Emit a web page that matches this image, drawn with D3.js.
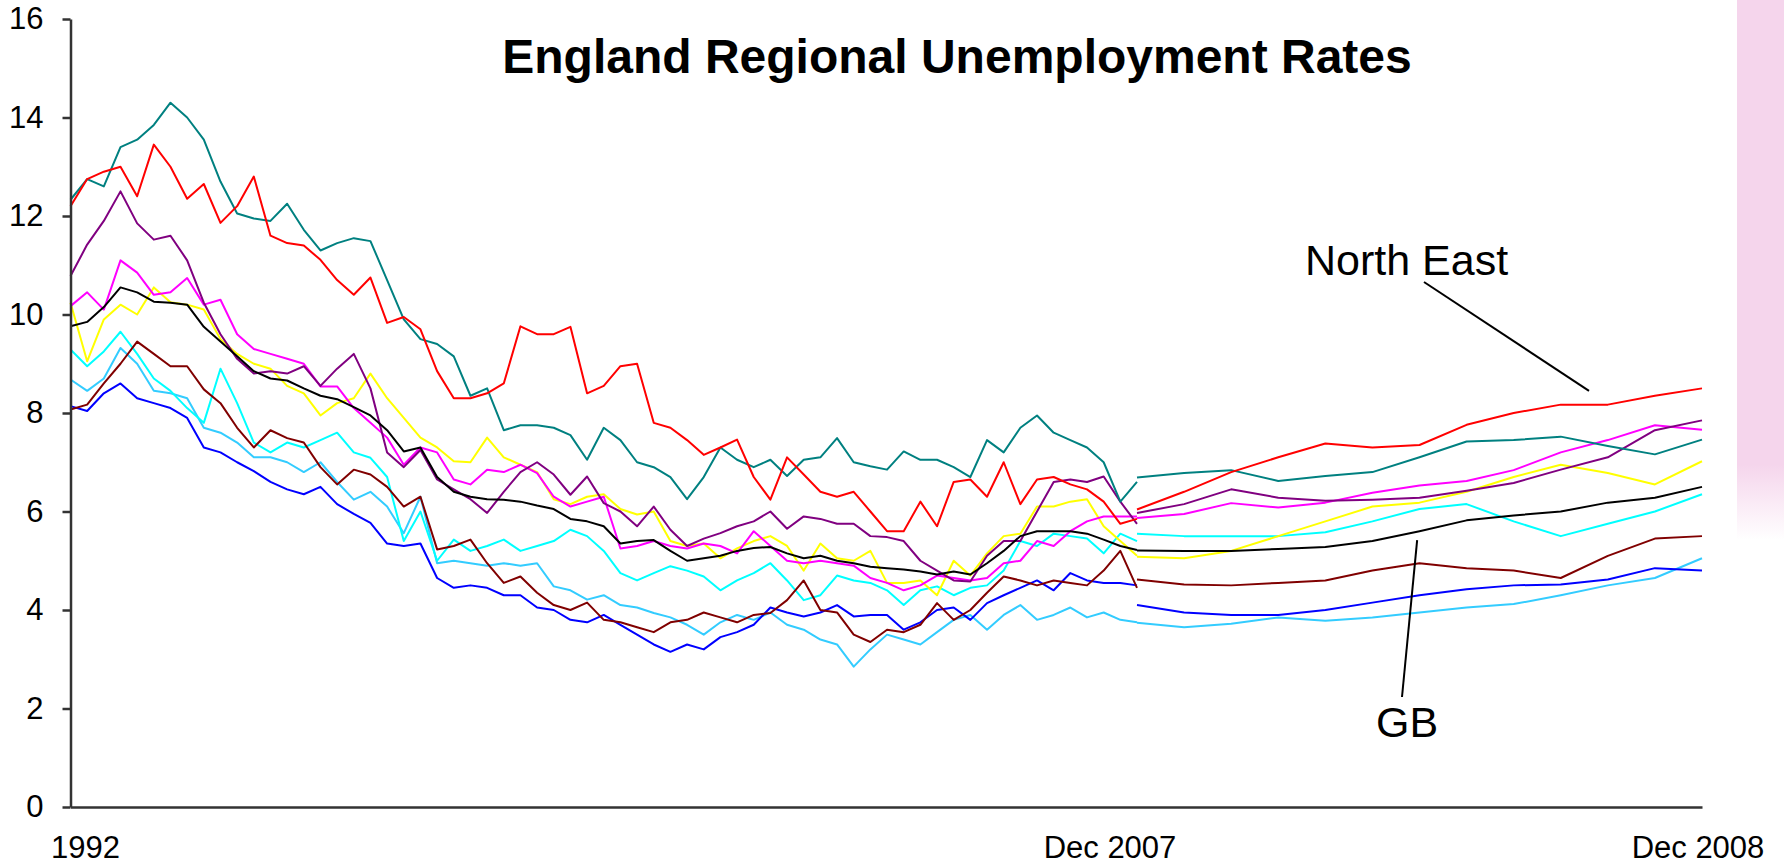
<!DOCTYPE html>
<html lang="en">
<head>
<meta charset="UTF-8">
<title>England Regional Unemployment Rates</title>
<style>
  body { margin: 0; background: #fff; }
  svg { display: block; font-family: "Liberation Sans", Arial, sans-serif; }
  .line { fill: none; stroke-width: 2; stroke-linejoin: round; }
  .axis path, .axis line { stroke: #333; stroke-width: 2.5; }
  .axis text { font-size: 31px; fill: #000; font-family: "Liberation Sans", Arial, sans-serif; }
  .label { font-size: 31px; fill: #000; }
  .note { font-size: 43px; fill: #000; }
  .leader { stroke: #000; stroke-width: 2; }
</style>
</head>
<body>
<div id="chart"></div>
<script src="https://cdn.jsdelivr.net/npm/d3@7/dist/d3.min.js"></script>
<script>
// monthly rates, Jan 1992 - Dec 2007 (read every ~3 months), then Dec 2007 - Dec 2008 monthly
const northEastHist = [12.2, 12.75, 12.9, 13.0, 12.4, 13.45, 13.0, 12.35, 12.65, 11.86, 12.2, 12.8, 11.6, 11.45, 11.4, 11.11, 10.7, 10.4, 10.75, 9.83, 9.95, 9.7, 8.85, 8.3, 8.3, 8.4, 8.6, 9.76, 9.6, 9.6, 9.75, 8.4, 8.55, 8.95, 9.0, 7.8, 7.7, 7.45, 7.15, 7.3, 7.46, 6.7, 6.24, 7.1, 6.75, 6.4, 6.3, 6.4, 6.0, 5.6, 5.6, 6.2, 5.7, 6.6, 6.65, 6.3, 7.0, 6.15, 6.65, 6.7, 6.55, 6.45, 6.2, 5.75, 5.85];
const northEastRecent = [6.04, 6.4, 6.8, 7.1, 7.38, 7.3, 7.35, 7.76, 8.0, 8.17, 8.17, 8.35, 8.5];

const tealHist = [12.33, 12.75, 12.6, 13.4, 13.55, 13.85, 14.3, 14.0, 13.55, 12.7, 12.05, 11.95, 11.9, 12.25, 11.72, 11.3, 11.45, 11.55, 11.49, 10.7, 9.9, 9.5, 9.4, 9.15, 8.35, 8.5, 7.65, 7.75, 7.75, 7.7, 7.55, 7.05, 7.7, 7.45, 7.0, 6.9, 6.7, 6.25, 6.7, 7.3, 7.05, 6.9, 7.05, 6.72, 7.05, 7.1, 7.49, 7.0, 6.92, 6.85, 7.22, 7.05, 7.05, 6.9, 6.7, 7.45, 7.2, 7.7, 7.95, 7.6, 7.45, 7.3, 7.0, 6.2, 6.6];
const tealRecent = [6.69, 6.78, 6.84, 6.62, 6.72, 6.8, 7.1, 7.42, 7.45, 7.52, 7.33, 7.16, 7.46];

const purpleHist = [10.78, 11.42, 11.9, 12.5, 11.85, 11.52, 11.6, 11.1, 10.24, 9.6, 9.1, 8.8, 8.85, 8.8, 8.95, 8.55, 8.9, 9.2, 8.5, 7.2, 6.9, 7.25, 6.65, 6.45, 6.25, 5.97, 6.4, 6.8, 7.0, 6.75, 6.34, 6.71, 6.17, 6.0, 5.7, 6.1, 5.63, 5.3, 5.45, 5.56, 5.7, 5.8, 6.0, 5.65, 5.9, 5.85, 5.75, 5.75, 5.5, 5.48, 5.4, 5.0, 4.8, 4.6, 4.58, 5.1, 5.4, 5.4, 6.0, 6.6, 6.65, 6.6, 6.71, 6.2, 5.75];
const purpleRecent = [5.97, 6.15, 6.45, 6.28, 6.22, 6.24, 6.28, 6.42, 6.58, 6.85, 7.1, 7.65, 7.85];

const magentaHist = [10.17, 10.45, 10.1, 11.1, 10.85, 10.4, 10.45, 10.74, 10.2, 10.3, 9.6, 9.3, 9.2, 9.1, 9.0, 8.54, 8.54, 8.1, 7.8, 7.5, 6.95, 7.3, 7.2, 6.65, 6.55, 6.85, 6.8, 6.95, 6.78, 6.3, 6.1, 6.2, 6.3, 5.25, 5.3, 5.4, 5.3, 5.25, 5.35, 5.3, 5.15, 5.6, 5.3, 5.0, 4.95, 5.0, 4.95, 4.9, 4.65, 4.55, 4.4, 4.5, 4.7, 4.65, 4.6, 4.65, 4.95, 5.0, 5.4, 5.3, 5.6, 5.8, 5.9, 5.9, 5.9];
const magentaRecent = [5.87, 5.95, 6.17, 6.08, 6.18, 6.38, 6.53, 6.62, 6.84, 7.2, 7.45, 7.75, 7.66];

const yellowHist = [10.24, 9.05, 9.9, 10.2, 10.0, 10.55, 10.25, 10.2, 10.1, 9.5, 9.2, 9.0, 8.9, 8.55, 8.4, 7.95, 8.2, 8.3, 8.8, 8.3, 7.9, 7.5, 7.3, 7.02, 7.0, 7.5, 7.1, 6.95, 6.8, 6.25, 6.15, 6.3, 6.35, 6.05, 5.94, 6.0, 5.4, 5.3, 5.35, 5.05, 5.25, 5.4, 5.5, 5.3, 4.8, 5.35, 5.05, 5.0, 5.2, 4.55, 4.55, 4.6, 4.3, 5.0, 4.7, 5.15, 5.5, 5.55, 6.1, 6.1, 6.2, 6.25, 5.7, 5.4, 5.1];
const yellowRecent = [5.08, 5.05, 5.2, 5.5, 5.8, 6.1, 6.18, 6.4, 6.7, 6.95, 6.78, 6.55, 7.02];

const gbHist = [9.76, 9.85, 10.15, 10.55, 10.45, 10.26, 10.24, 10.2, 9.75, 9.45, 9.15, 8.85, 8.7, 8.66, 8.5, 8.35, 8.28, 8.12, 7.95, 7.65, 7.22, 7.3, 6.7, 6.4, 6.3, 6.25, 6.24, 6.2, 6.12, 6.05, 5.85, 5.8, 5.7, 5.35, 5.4, 5.42, 5.2, 5.0, 5.05, 5.1, 5.2, 5.26, 5.28, 5.15, 5.05, 5.1, 5.0, 4.95, 4.88, 4.85, 4.82, 4.78, 4.72, 4.78, 4.72, 4.95, 5.2, 5.5, 5.6, 5.6, 5.6, 5.55, 5.43, 5.3, 5.22];
const gbRecent = [5.21, 5.2, 5.2, 5.24, 5.28, 5.4, 5.6, 5.82, 5.92, 6.0, 6.18, 6.28, 6.5];

const cyanHist = [9.29, 8.95, 9.25, 9.65, 9.2, 8.7, 8.45, 8.1, 7.8, 8.9, 8.2, 7.4, 7.2, 7.4, 7.3, 7.45, 7.6, 7.2, 7.09, 6.7, 5.4, 6.0, 5.0, 5.43, 5.2, 5.3, 5.43, 5.2, 5.3, 5.4, 5.63, 5.5, 5.2, 4.75, 4.6, 4.75, 4.89, 4.8, 4.68, 4.4, 4.6, 4.75, 4.95, 4.6, 4.2, 4.3, 4.7, 4.6, 4.55, 4.4, 4.1, 4.4, 4.48, 4.3, 4.45, 4.5, 4.8, 5.4, 5.3, 5.55, 5.5, 5.45, 5.15, 5.55, 5.4];
const cyanRecent = [5.55, 5.5, 5.5, 5.5, 5.58, 5.8, 6.05, 6.15, 5.8, 5.5, 5.75, 6.0, 6.35];

const skyHist = [8.68, 8.45, 8.7, 9.32, 9.0, 8.45, 8.4, 8.3, 7.7, 7.6, 7.4, 7.1, 7.1, 7.0, 6.8, 7.0, 6.6, 6.24, 6.4, 6.1, 5.56, 6.3, 4.95, 5.0, 4.95, 4.9, 4.95, 4.9, 4.95, 4.48, 4.4, 4.21, 4.3, 4.1, 4.05, 3.94, 3.85, 3.7, 3.5, 3.75, 3.9, 3.8, 3.95, 3.7, 3.6, 3.4, 3.3, 2.85, 3.2, 3.5, 3.4, 3.3, 3.55, 3.8, 3.9, 3.6, 3.9, 4.1, 3.8, 3.9, 4.05, 3.85, 3.95, 3.8, 3.75];
const skyRecent = [3.74, 3.65, 3.72, 3.85, 3.78, 3.85, 3.95, 4.05, 4.12, 4.3, 4.5, 4.65, 5.05];

const blueHist = [8.14, 8.04, 8.4, 8.6, 8.3, 8.2, 8.1, 7.9, 7.3, 7.2, 7.0, 6.82, 6.6, 6.45, 6.35, 6.5, 6.15, 5.95, 5.77, 5.35, 5.3, 5.35, 4.65, 4.45, 4.5, 4.45, 4.3, 4.3, 4.05, 4.0, 3.8, 3.75, 3.9, 3.7, 3.5, 3.3, 3.15, 3.3, 3.2, 3.45, 3.55, 3.7, 4.05, 3.95, 3.87, 3.95, 4.1, 3.87, 3.9, 3.9, 3.6, 3.75, 4.0, 4.05, 3.8, 4.14, 4.3, 4.45, 4.6, 4.4, 4.75, 4.6, 4.55, 4.55, 4.5];
const blueRecent = [4.1, 3.95, 3.9, 3.9, 4.0, 4.15, 4.3, 4.42, 4.5, 4.52, 4.62, 4.85, 4.8];

const brownHist = [8.07, 8.17, 8.6, 9.0, 9.45, 9.2, 8.95, 8.95, 8.48, 8.2, 7.7, 7.3, 7.65, 7.49, 7.4, 6.9, 6.55, 6.85, 6.75, 6.5, 6.1, 6.3, 5.23, 5.3, 5.43, 4.95, 4.55, 4.68, 4.35, 4.1, 4.0, 4.15, 3.8, 3.75, 3.65, 3.55, 3.75, 3.8, 3.95, 3.85, 3.75, 3.9, 3.94, 4.2, 4.6, 4.0, 3.95, 3.5, 3.35, 3.6, 3.55, 3.7, 4.14, 3.8, 4.0, 4.35, 4.68, 4.6, 4.5, 4.6, 4.55, 4.5, 4.8, 5.2, 4.45];
const brownRecent = [4.62, 4.52, 4.5, 4.55, 4.6, 4.8, 4.95, 4.85, 4.8, 4.65, 5.1, 5.45, 5.5];

const yTicks = [0, 2, 4, 6, 8, 10, 12, 14, 16];
const xLabels = [
  { month: 0, text: "1992", dx: 15 },
  { month: 191, text: "Dec 2007", dx: -27 },
  { month: 203, text: "Dec 2008", dx: -4 }
];

const series = [
  { color: "#33ccff", hist: skyHist, recent: skyRecent },
  { color: "#00ffff", hist: cyanHist, recent: cyanRecent },
  { color: "#0000ff", hist: blueHist, recent: blueRecent },
  { color: "#800000", hist: brownHist, recent: brownRecent },
  { color: "#ffff00", hist: yellowHist, recent: yellowRecent },
  { color: "#ff00ff", hist: magentaHist, recent: magentaRecent },
  { color: "#800080", hist: purpleHist, recent: purpleRecent },
  { color: "#008080", hist: tealHist, recent: tealRecent },
  { color: "#ff0000", hist: northEastHist, recent: northEastRecent },
  { color: "#000000", hist: gbHist, recent: gbRecent }
];

const width = 1784;
const height = 864;

const svg = d3.select("#chart")
  .append("svg")
  .attr("width", width)
  .attr("height", height);

// pink strip on the right edge of the slide
const grad = svg.append("defs").append("linearGradient")
  .attr("id", "stripFade")
  .attr("x1", 0).attr("y1", 0).attr("x2", 0).attr("y2", 1);
grad.append("stop").attr("offset", "0%").attr("stop-color", "#f5d5ec");
grad.append("stop").attr("offset", "86%").attr("stop-color", "#f5d5ec");
grad.append("stop").attr("offset", "100%").attr("stop-color", "#f5d5ec").attr("stop-opacity", 0);
svg.append("rect")
  .attr("x", 1737).attr("y", 0)
  .attr("width", 47).attr("height", 540)
  .attr("fill", "url(#stripFade)");

// months since Jan 1992; last year gets its own stretch of axis
const x = d3.scaleLinear().domain([0, 191, 203]).range([70.5, 1137, 1702]);
const y = d3.scaleLinear().domain([0, 16]).range([807, 19]);

const line = d3.line()
  .x(d => x(d[0]))
  .y(d => y(d[1]));

series.forEach(s => {
  const histPts = s.hist.map((v, i) => [i * 191 / (s.hist.length - 1), v]);
  const recentPts = s.recent.map((v, k) => [191 + k, v]);
  [histPts, recentPts].forEach(pts => {
    svg.append("path")
      .attr("class", "line")
      .attr("stroke", s.color)
      .attr("d", line(pts));
  });
});

svg.append("g")
  .attr("class", "axis")
  .attr("transform", `translate(${x(0)},0)`)
  .call(d3.axisLeft(y).tickValues(yTicks).tickSize(8).tickSizeOuter(0).tickPadding(19));

svg.append("g")
  .attr("class", "axis")
  .attr("transform", `translate(0,${y(0)})`)
  .call(d3.axisBottom(x).tickValues([]).tickSizeOuter(0));

svg.selectAll(".xlabel")
  .data(xLabels)
  .enter()
  .append("text")
  .attr("class", "label")
  .attr("x", d => x(d.month) + d.dx)
  .attr("y", 858)
  .attr("text-anchor", "middle")
  .text(d => d.text);

svg.append("text")
  .attr("x", 957)
  .attr("y", 73)
  .attr("text-anchor", "middle")
  .style("font-size", "48px")
  .style("font-weight", "bold")
  .text("England Regional Unemployment Rates");

// call-outs
svg.append("text").attr("class", "note").attr("x", 1305).attr("y", 275).text("North East");
svg.append("line").attr("class", "leader")
  .attr("x1", 1424).attr("y1", 282)
  .attr("x2", x(200.6)).attr("y2", y(8.45));

svg.append("text").attr("class", "note").attr("x", 1376).attr("y", 737).text("GB");
svg.append("line").attr("class", "leader")
  .attr("x1", x(196.95)).attr("y1", y(5.42))
  .attr("x2", 1402).attr("y2", 697);
</script>
